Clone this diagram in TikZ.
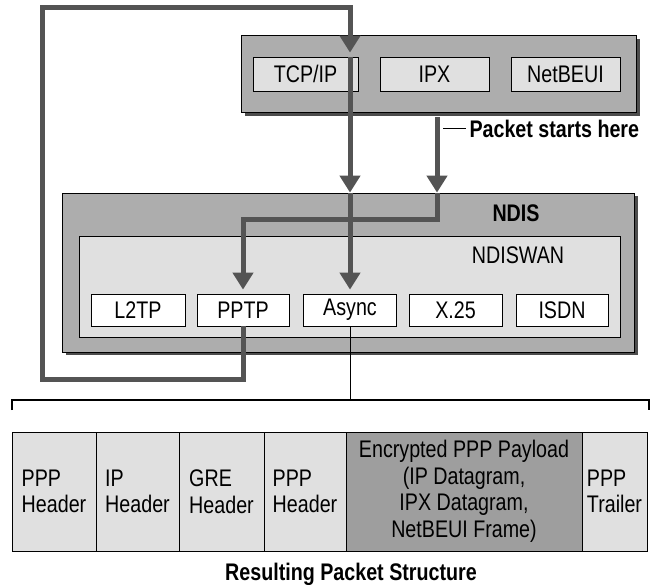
\documentclass[tikz,border=0pt]{standalone}
\usepackage{fontspec}
\setmainfont{Liberation Sans}[FakeStretch=0.82]
\usetikzlibrary{arrows.meta}
\definecolor{outerc}{gray}{0.68}
\definecolor{innerc}{gray}{0.88}
\definecolor{shadc}{gray}{0.30}
\definecolor{arrc}{gray}{0.33}
\definecolor{encc}{gray}{0.62}
\begin{document}
\begin{tikzpicture}[x=1pt,y=-1pt,
  every node/.style={font=\fontsize{24}{26.5}\selectfont},
  boldtxt/.style={font=\fontsize{24}{26.5}\selectfont\bfseries},
  bigbox/.style={draw=black, line width=0.8pt, fill=outerc, inner sep=0pt},
  lbox/.style={draw=black, line width=0.8pt, fill=innerc, inner sep=0pt, minimum height=34pt},
  wbox/.style={draw=black, line width=0.8pt, fill=white, inner sep=0pt, minimum height=32pt},
  pbox/.style={draw=black, line width=1pt, fill=innerc, inner sep=0pt, minimum height=119pt, align=left},
  arrline/.style={draw=arrc, line width=5pt, -{Triangle[width=20pt,length=17pt]}},
  thinline/.style={draw=black, line width=1pt},
  bracketline/.style={draw=black, line width=1.5pt}
]
\useasboundingbox (0,0) rectangle (652,584);
\fill[white] (0,0) rectangle (652,584);

% protocol layer
\fill[shadc] (245,39) rectangle (640,116);
\node[bigbox, minimum width=395pt, minimum height=77pt] (proto) at (438.5,73.5) {};
\node[lbox, minimum width=105pt] (tcp) at (305.5,74) {TCP/IP};
\node[lbox, minimum width=109pt] (ipx) at (434.5,74) {IPX};
\node[lbox, minimum width=109pt] (netbeui) at (565.5,74) {NetBEUI};

% NDIS layer
\fill[shadc] (66,196) rectangle (638,355);
\node[bigbox, minimum width=572pt, minimum height=159pt] (ndis) at (348,272.5) {};
\node[boldtxt] (ndislbl) at (516,213) {NDIS};
\node[draw=black, line width=0.8pt, fill=innerc, inner sep=0pt, minimum width=541pt, minimum height=101pt] (wan) at (349.5,286.5) {};
\node (wanlbl) at (518,255) {NDISWAN};
\node[wbox, minimum width=94pt] (l2tp) at (138,310) {L2TP};
\node[wbox, minimum width=92pt] (pptp) at (243,310) {PPTP};
\node[wbox, minimum width=93pt] (async) at (350,310) {Async};
\node[wbox, minimum width=93pt] (x25) at (455.5,310) {X.25};
\node[wbox, minimum width=92pt] (isdn) at (562,310) {ISDN};

% coordinates for connectors
\coordinate (lb) at (42,379);
\coordinate (lt) at (42,7);
\path (tcp.north -| async.north) ++(0,-4) coordinate (tin);
\path (async.north) ++(0,-4) coordinate (ain);
\path (pptp.north) ++(0,-4) coordinate (pin);
\coordinate (ps) at (437,117);
\coordinate (bend) at (437,219);
\coordinate (pl1) at (443,128);
\coordinate (bm) at (350,400);

% loop from PPTP back to TCP/IP
\draw[arrline] (pptp.south) |- (lb) -- (lt) -| (tin);
% TCP/IP down to NDIS, then to Async
\draw[arrline] (tcp.north -| async.north) -- (ndis.north -| async.north);
\draw[arrline] (ndis.north -| async.north) -- (ain);
% packet start arrow
\draw[arrline] (ps) -- (ps |- ndis.north);
\draw[arrline] (ps |- ndis.north) -- (bend) -| (pin);

% label
\node[boldtxt, anchor=base west] (pst) at (466,137) {Packet starts here};
\draw[thinline] (pl1) -- (pl1 -| pst.west);

% bracket and connector
\draw[thinline] (async.south) -- (bm);
\draw[bracketline] (12,410) -- (12,400) -- (649,400) -- (649,410);

% packet structure
\node[pbox, minimum width=84pt] (p1) at (54,491.5) {PPP\\Header};
\node[pbox, minimum width=83pt] (p2) at (137.5,491.5) {IP\\Header};
\node[pbox, minimum width=85pt] (p3) at (221.5,491.5) {GRE\\Header};
\node[pbox, minimum width=82pt] (p4) at (305,491.5) {PPP\\Header};
\node[pbox, minimum width=236pt, fill=encc, align=center] (p5) at (464,491.5) {Encrypted PPP Payload\\(IP Datagram,\\IPX Datagram,\\NetBEUI Frame)};
\node[pbox, minimum width=65pt] (p6) at (614.5,491.5) {PPP\\Trailer};

\node[boldtxt, anchor=base] (title) at (351,580) {Resulting Packet Structure};
\end{tikzpicture}
\end{document}
